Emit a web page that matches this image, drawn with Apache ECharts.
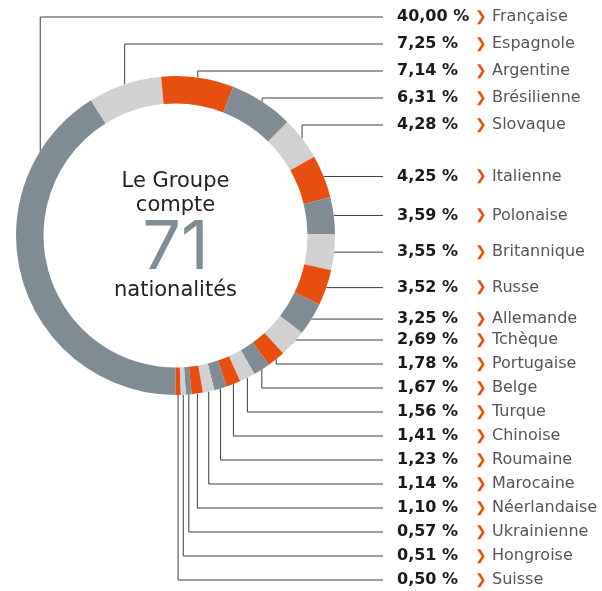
<!DOCTYPE html>
<html>
<head>
<meta charset="utf-8">
<script src="https://cdn.jsdelivr.net/npm/echarts@6/dist/echarts.min.js"></script>
<style>
  html, body { margin: 0; padding: 0; background: #fff; }
  #main { width: 602px; height: 591px; }
</style>
</head>
<body>
<div id="main"></div>
<script>
// nationalités, dans l'ordre du cercle (sens horaire depuis le bas)
var names = ['Française', 'Espagnole', 'Argentine', 'Brésilienne', 'Slovaque',
  'Italienne', 'Polonaise', 'Britannique', 'Russe', 'Allemande', 'Tchèque',
  'Portugaise', 'Belge', 'Turque', 'Chinoise', 'Roumaine', 'Marocaine',
  'Néerlandaise', 'Ukrainienne', 'Hongroise', 'Suisse'];
var values = [40.00, 7.25, 7.14, 6.31, 4.28, 4.25, 3.59, 3.55, 3.52, 3.25, 2.69,
  1.78, 1.67, 1.56, 1.41, 1.23, 1.14, 1.10, 0.57, 0.51, 0.50];
var centerLines = ['Le Groupe', 'compte', '71', 'nationalités'];

var palette = ['#7f8c93', '#d1d1d1', '#e84e0f'];
var FONT = '"DejaVu Sans", sans-serif';

var cx = 175.5, cy = 235.5, R = 159.5, r0 = 132;
var labelX = 397, lineEndX = 383;
var topRowY = 125, topStep = 27;       // Française .. Slovaque : lignes qui montent
var bottomRowY = 340, bottomStep = 24; // Tchèque .. Suisse : lignes qui descendent
var firstAnchorAngle = 302;            // point d'attache du grand secteur (degrés, depuis le haut)

var chartDom = document.getElementById('main');
var myChart = echarts.init(chartDom);

function fmt(v) {
  return v.toFixed(2).replace('.', ',') + ' %';
}

var total = values.reduce(function (a, b) { return a + b; }, 0);
function midPoint(i) {
  var acc = 0;
  for (var k = 0; k < i; k++) acc += values[k];
  var ang = 180 + (acc + values[i] / 2) / total * 360;
  var a = ang * Math.PI / 180;
  return [cx + R * Math.sin(a), cy - R * Math.cos(a)];
}

var data = names.map(function (n, i) {
  return { name: n, value: values[i], itemStyle: { color: palette[i % 3] } };
});

function centerText(txt, dy, size, color, family) {
  return {
    type: 'text',
    x: cx,
    y: cy + dy,
    style: {
      text: txt,
      align: 'center',
      verticalAlign: 'middle',
      fontFamily: family || FONT,
      fontSize: size,
      fill: color
    }
  };
}

var option = {
  backgroundColor: '#fff',
  animation: false,
  graphic: [
    centerText(centerLines[0], -54, 21, '#222'),
    centerText(centerLines[1], -30, 21, '#222'),
    centerText(centerLines[2], 13, 68, '#7f8c93', 'Inter, sans-serif'),
    centerText(centerLines[3], 55, 21, '#222')
  ],
  series: [{
    type: 'pie',
    center: [cx, cy],
    radius: [r0, R],
    startAngle: -90,
    clockwise: true,
    avoidLabelOverlap: false,
    emphasis: { disabled: true },
    data: data,
    label: {
      show: true,
      position: 'outside',
      formatter: function (p) {
        return '{p|' + fmt(p.value) + '}{c|❯}{n|' + p.name + '}';
      },
      rich: {
        p: { fontFamily: FONT, fontSize: 16, fontWeight: 'bold', color: '#1a1a1a', width: 78 },
        c: { fontFamily: FONT, fontSize: 14, fontWeight: 'bold', color: '#e84e0f', width: 17 },
        n: { fontFamily: FONT, fontSize: 16, color: '#555' }
      }
    },
    labelLine: {
      show: true,
      length: 10,
      length2: 10,
      lineStyle: { color: '#3d3d3d', width: 1 }
    },
    labelLayout: function (params) {
      var i = params.dataIndex;
      var pt;
      if (i === 0) {
        var a = firstAnchorAngle * Math.PI / 180;
        pt = [cx + R * Math.sin(a), cy - R * Math.cos(a)];
      } else if (params.labelLinePoints && params.labelLinePoints[0]) {
        pt = params.labelLinePoints[0];
      } else {
        pt = midPoint(i);
      }
      var x1 = pt[0], y1 = pt[1], rowY;
      if (i < 5) rowY = topRowY - (4 - i) * topStep;
      else if (i < 10) rowY = y1;
      else rowY = bottomRowY + (i - 10) * bottomStep;
      return {
        x: labelX,
        y: rowY,
        align: 'left',
        verticalAlign: 'middle',
        labelLinePoints: [[x1, y1], [x1, rowY], [lineEndX, rowY]]
      };
    }
  }]
};

option && myChart.setOption(option);
</script>
</body>
</html>
